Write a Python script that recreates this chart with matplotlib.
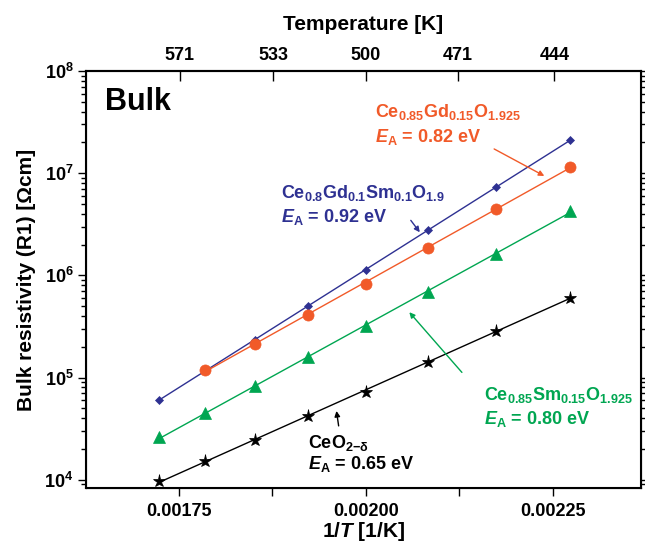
import numpy as np
import matplotlib
matplotlib.use("Agg")
import matplotlib.pyplot as plt
from matplotlib.ticker import FixedLocator, MultipleLocator, LogLocator, NullFormatter

plt.rcParams['font.family'] = ['Liberation Sans', 'DejaVu Sans']
plt.rcParams['font.weight'] = 'bold'
plt.rcParams['mathtext.fontset'] = 'custom'
plt.rcParams['mathtext.rm'] = 'Liberation Sans:bold'
plt.rcParams['mathtext.it'] = 'Liberation Sans:bold:italic'
plt.rcParams['mathtext.bf'] = 'Liberation Sans:bold'

# measurement temperatures [K]
temps = np.array([580, 560, 540, 520, 500, 480, 460, 440])
inv_T = 1.0 / temps

# bulk resistivity [Ohm cm]
rho_ceo2 = [9.8e3, 1.51e4, 2.44e4, 4.16e4, 7.3e4, 1.43e5, 2.87e5, 6.0e5]
rho_sdc = [2.6e4, 4.5e4, 8.3e4, 1.58e5, 3.2e5, 6.9e5, 1.62e6, 4.27e6]
rho_gdc = [np.nan, 1.19e5, 2.14e5, 4.1e5, 8.3e5, 1.86e6, 4.47e6, 1.15e7]
rho_gsdc = [6.0e4, 1.2e5, 2.34e5, 5.0e5, 1.12e6, 2.75e6, 7.35e6, 2.1e7]

top_temps = [571, 533, 500, 471, 444]
top_labels = ["571", "533", "500", "471", "444"]

c_blue = "#2e3192"
c_orange = "#f15a29"
c_green = "#00a651"
c_black = "#000000"

fig = plt.figure(figsize=(6.45, 5.48), dpi=100)
ax = fig.add_axes([86 / 645, 60 / 548, 555 / 645, 417 / 548])

series = [
    (rho_gsdc, c_blue, "D", 4.5),
    (rho_gdc, c_orange, "o", 8),
    (rho_sdc, c_green, "^", 8.5),
    (rho_ceo2, c_black, "*", 9.5),
]
for vals, col, mk, ms in series:
    vals = np.array(vals)
    ok = ~np.isnan(vals)
    x = inv_T[ok]
    p = np.polyfit(x, np.log10(vals[ok]), 1)
    xl = np.array([x.min(), x.max()])
    ax.plot(xl, 10 ** np.polyval(p, xl), color=col, lw=1.0, zorder=2)
    ax.plot(x, vals[ok], ls="none", marker=mk, ms=ms, color=col,
            markeredgewidth=0.5, zorder=3)

ax.set_yscale("log")
ax.set_xlim(0.001626, 0.002368)
ax.set_ylim(8.3e3, 1e8)

ax.xaxis.set_major_locator(FixedLocator([0.00175, 0.002, 0.00225]))
ax.set_xticklabels(["0.00175", "0.00200", "0.00225"])
ax.xaxis.set_minor_locator(MultipleLocator(0.000125))
ax.yaxis.set_major_locator(FixedLocator([1e4, 1e5, 1e6, 1e7, 1e8]))
ax.set_yticklabels([r"$\mathbf{10^{4}}$", r"$\mathbf{10^{5}}$", r"$\mathbf{10^{6}}$",
                    r"$\mathbf{10^{7}}$", r"$\mathbf{10^{8}}$"])
ax.yaxis.set_minor_locator(LogLocator(base=10, subs=np.arange(2, 10)))
ax.yaxis.set_minor_formatter(NullFormatter())

ax.tick_params(axis="x", which="major", direction="out", length=6, width=1, labelsize=13, pad=5)
ax.tick_params(axis="x", which="minor", direction="out", length=6, width=1)
ax.tick_params(axis="y", which="major", direction="out", length=6, width=1,
               labelsize=13, right=True, pad=3)
ax.tick_params(axis="y", which="minor", direction="out", length=3.5, width=1, right=True)
for s in ax.spines.values():
    s.set_linewidth(1.5)

ax.set_xlabel("1/$T$ [1/K]", fontsize=15, fontweight="bold", labelpad=0)
ax.set_ylabel("Bulk resistivity (R1) [Ωcm]", fontsize=15, fontweight="bold", labelpad=6)

# top temperature axis
ax2 = ax.twiny()
ax2.set_xlim(ax.get_xlim())
ax2.xaxis.set_major_locator(FixedLocator(1.0 / np.array(top_temps)))
ax2.set_xticklabels(top_labels)
ax2.xaxis.set_minor_locator(FixedLocator([]))
ax2.tick_params(axis="x", which="major", direction="in", length=7, width=1,
                labelsize=13, pad=5)
ax2.set_xlabel("Temperature [K]", fontsize=15, fontweight="bold", labelpad=12)
ax2.spines["top"].set_linewidth(1.5)

# annotations
ax.text(0.035, 0.925, "Bulk", transform=ax.transAxes, fontsize=22,
        fontweight="bold", va="center", ha="left")

tfs = 13
arrow = dict(arrowstyle="-|>", lw=1, mutation_scale=8)

ax.text(0.0020121, 10 ** 7.60, "Ce$_{0.85}$Gd$_{0.15}$O$_{1.925}$", color=c_orange,
        fontsize=tfs, ha="left", va="center")
ax.text(0.0020121, 10 ** 7.35, "$E_{\\mathrm{A}}$ = 0.82 eV", color=c_orange,
        fontsize=tfs, ha="left", va="center")
ax.annotate("", xy=(0.002242, 10 ** 6.96), xytext=(0.0021684, 10 ** 7.25),
            arrowprops=dict(arrow, color=c_orange))

ax.text(0.001887, 10 ** 6.81, "Ce$_{0.8}$Gd$_{0.1}$Sm$_{0.1}$O$_{1.9}$", color=c_blue,
        fontsize=tfs, ha="left", va="center")
ax.text(0.001887, 10 ** 6.57, "$E_{\\mathrm{A}}$ = 0.92 eV", color=c_blue,
        fontsize=tfs, ha="left", va="center")
ax.annotate("", xy=(0.0020745, 10 ** 6.40), xytext=(0.002058, 10 ** 6.56),
            arrowprops=dict(arrow, color=c_blue))

ax.text(0.0021578, 10 ** 4.83, "Ce$_{0.85}$Sm$_{0.15}$O$_{1.925}$", color=c_green,
        fontsize=tfs, ha="left", va="center")
ax.text(0.0021578, 10 ** 4.59, "$E_{\\mathrm{A}}$ = 0.80 eV", color=c_green,
        fontsize=tfs, ha="left", va="center")
ax.annotate("", xy=(0.0020558, 10 ** 5.66), xytext=(0.0021310, 10 ** 5.03),
            arrowprops=dict(arrow, color=c_green))

ax.text(0.001923, 10 ** 4.36, "CeO$_{2\\mathrm{-δ}}$", color=c_black,
        fontsize=tfs, ha="left", va="center")
ax.text(0.001923, 10 ** 4.15, "$E_{\\mathrm{A}}$ = 0.65 eV", color=c_black,
        fontsize=tfs, ha="left", va="center")
ax.annotate("", xy=(0.0019603, 10 ** 4.70), xytext=(0.0019643, 10 ** 4.50),
            arrowprops=dict(arrow, color=c_black))

fig.savefig("out.png", dpi=100)
